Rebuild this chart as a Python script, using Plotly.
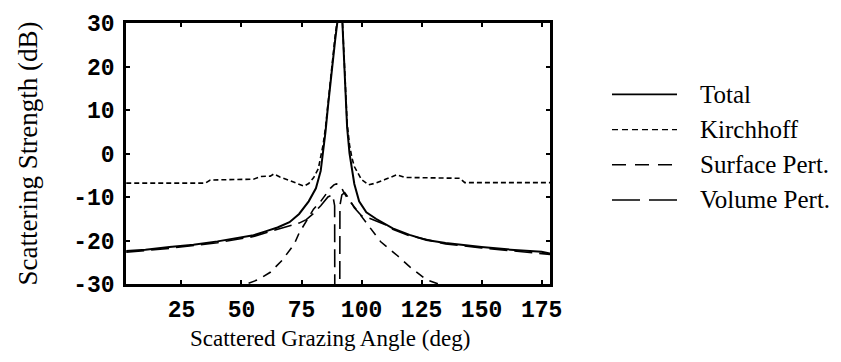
import plotly.graph_objects as go

# Scattered grazing angle (deg) and scattering strength (dB) per model
x_total = [2, 10, 20, 30, 40, 50, 55, 60, 65, 70, 74, 78, 81, 83, 84, 85, 86, 87, 88, 89, 90, 91,
           92, 92.5, 93, 93.5, 94, 95, 96, 97, 99, 102, 106, 110, 113, 120, 127, 135, 141, 150,
           162, 170, 175, 178.5]
total = [-22.4, -22.1, -21.5, -21.0, -20.2, -19.3, -18.8, -17.9, -17.0, -15.8, -13.9, -11.0, -8.0,
         -4.0, 0.0, 5.0, 10.7, 16.0, 22.0, 26.0, 30.5, 34.0, 30.5, 24.0, 17.0, 10.7, 6.0, 0.0,
         -4.0, -7.0, -11.0, -13.5, -15.0, -16.3, -17.2, -18.7, -19.9, -20.6, -21.0, -21.5, -22.1,
         -22.4, -22.6, -23.0]

x_kirch = [2, 20, 35, 37, 45, 55, 58, 62, 63.5, 66, 70, 73, 76, 78, 80, 82, 83, 84, 85, 86, 87,
           88, 89, 90, 91, 92, 92.6, 93.3, 94, 95, 96, 97, 98.5, 100, 103, 106, 109.7, 112, 114.7,
           118, 125, 135, 141, 143, 160, 178.5]
kirch = [-6.8, -6.8, -6.8, -6.1, -6.0, -5.9, -5.3, -5.2, -4.7, -5.4, -6.2, -6.8, -7.5, -6.9, -5.6,
         -3.5, -1.0, 2.0, 6.0, 11.5, 17.0, 23.0, 27.0, 31.0, 34.5, 31.0, 24.0, 13.0, 7.0, 2.0, -1.0,
         -3.0, -4.5, -6.0, -7.2, -6.8, -6.0, -5.5, -4.9, -5.5, -5.6, -5.6, -5.7, -6.7, -6.7, -6.7]

x_surf = [40, 52, 57, 62, 67, 72, 74, 77, 80, 83, 85, 87, 88.5, 89.5, 90.5, 91.5, 92.4, 94, 96.6,
          100, 105, 108, 115, 120, 127, 132, 145]
surf = [-31.5, -30.0, -29.0, -27.3, -24.5, -20.8, -18.3, -15.5, -12.8, -11.0, -9.5, -8.0, -7.2,
        -7.0, -7.2, -7.6, -8.7, -10.2, -12.0, -14.5, -18.0, -20.3, -23.5, -26.0, -29.0, -30.0, -31.5]

x_vol = [2, 20, 40, 55, 62, 66, 70, 74, 77, 80, 83, 86, 88, 88.8, 88.9, 90.9, 91.0, 91.8, 93, 95,
         97, 100, 103, 106, 110, 113, 120, 135, 150, 178.5]
vol = [-22.7, -21.8, -20.5, -19.1, -17.9, -17.3, -16.7, -16.0, -15.2, -13.8, -12.0, -10.0, -9.5,
       -12.0, -45.0, -45.0, -12.0, -9.5, -9.0, -10.5, -12.5, -14.3, -14.8, -15.5, -16.4, -17.4,
       -18.9, -20.8, -21.7, -23.2]

x_ticks = [25, 50, 75, 100, 125, 150, 175]
y_ticks = [-30, -20, -10, 0, 10, 20, 30]

names = ["Total", "Kirchhoff", "Surface Pert.", "Volume Pert."]
dashes = ["solid", "5px,3px", "9px,7px", "18px,7px"]
widths = [2, 1.6, 1.6, 1.6]
leg_dashes = ["solid", "6px,4px", "14px,9px", "28px,9px"]
leg_widths = [1.6, 1.2, 1.6, 1.6]
xs = [x_total, x_kirch, x_surf, x_vol]
ys = [total, kirch, surf, vol]

L, R, T, B = 126, 291, 17, 78
W, H = 841, 362
pw, ph = W - L - R, H - T - B

fig = go.Figure()
for n, xx, yy, d, w in zip(names, xs, ys, dashes, widths):
    fig.add_trace(go.Scatter(x=xx, y=yy, mode="lines", name=n, showlegend=False,
                             line=dict(color="black", width=w, dash=d)))

# legend drawn as paper-referenced samples and labels
leg_rows = [90, 126, 162, 198]
for n, d, w, r in zip(names, leg_dashes, leg_widths, leg_rows):
    yp = (H - B - r) / ph
    fig.add_shape(type="line", xref="paper", yref="paper",
                  x0=(612 - L) / pw, x1=(677 - L) / pw, y0=yp, y1=yp,
                  line=dict(color="black", width=w, dash=d))
    fig.add_annotation(xref="paper", yref="paper", x=(698 - L) / pw, y=yp, text=n,
                       showarrow=False, xanchor="left", yanchor="middle",
                       font=dict(family="Liberation Serif", size=25, color="black"))

# x-axis title
fig.add_annotation(xref="paper", yref="paper", x=(330 - L) / pw, y=(H - B - 340) / ph,
                   text="Scattered Grazing Angle (deg)", showarrow=False,
                   xanchor="center", yanchor="middle",
                   font=dict(family="Liberation Serif", size=23, color="black"))

tickfont = dict(family="Liberation Mono", size=23, color="black", weight="bold")

fig.update_layout(
    width=W, height=H,
    margin=dict(l=L, r=R, t=T, b=B),
    paper_bgcolor="white", plot_bgcolor="white",
    showlegend=False,
    xaxis=dict(range=[1.9, 178.5], tickvals=x_ticks, ticktext=[str(v) for v in x_ticks],
               ticks="inside", ticklen=4, tickwidth=1.5, tickcolor="black",
               showline=True, linewidth=2.5, linecolor="black", mirror="ticks",
               showgrid=False, zeroline=False, tickfont=tickfont, ticklabelstandoff=3),
    yaxis=dict(range=[-30, 30], tickvals=y_ticks, ticktext=[str(v) for v in y_ticks],
               ticks="inside", ticklen=4, tickwidth=1.5, tickcolor="black",
               showline=True, linewidth=2.5, linecolor="black", mirror="ticks",
               showgrid=False, zeroline=False, tickfont=tickfont, ticklabelstandoff=4,
               title=dict(text="Scattering Strength (dB)",
                          font=dict(family="Liberation Serif", size=27, color="black"),
                          standoff=28)),
)

fig.write_html("out.html")
